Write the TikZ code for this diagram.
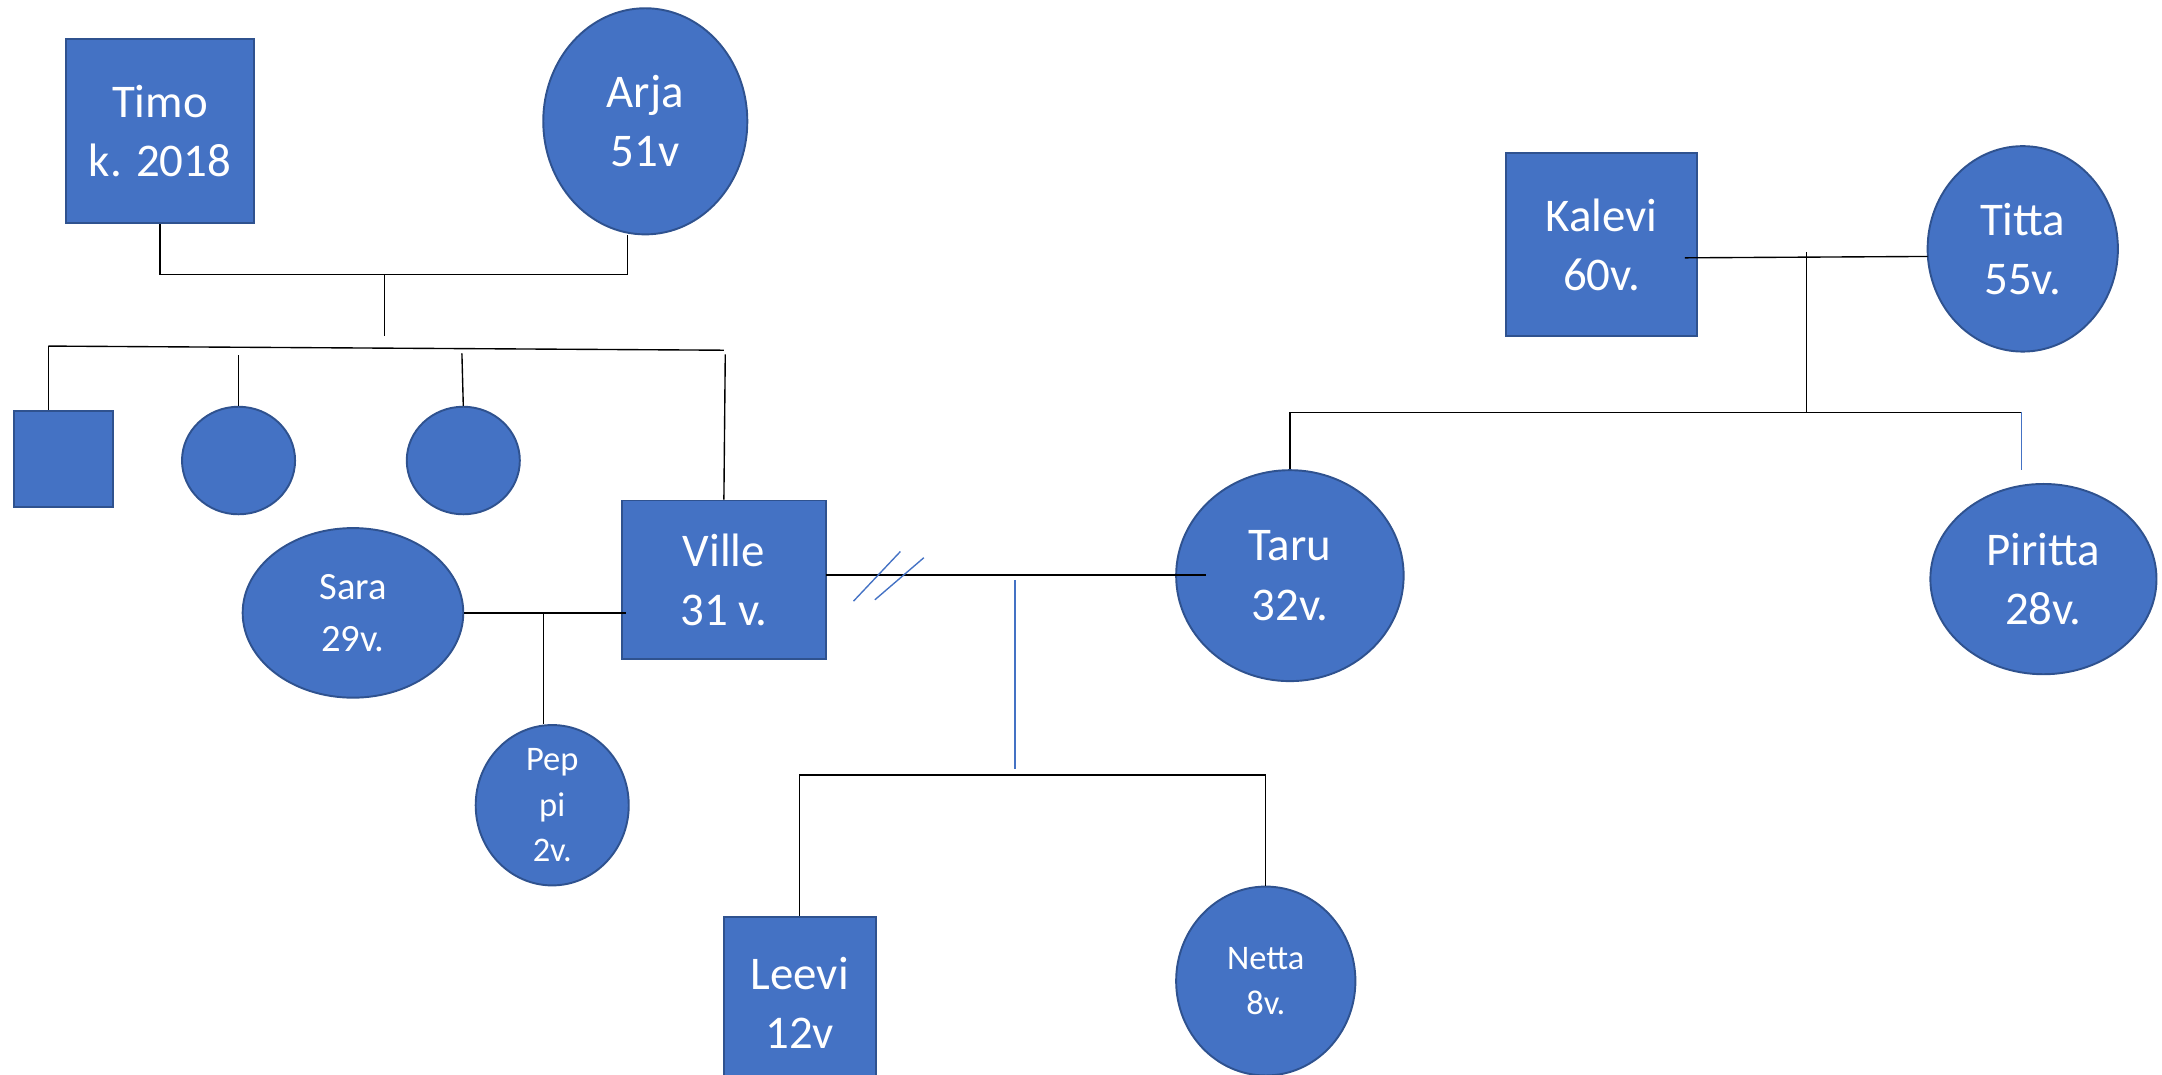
\documentclass[tikz,border=0pt]{standalone}
\usepackage{fontspec}
\setmainfont{Carlito}
\usetikzlibrary{shapes.geometric}
\definecolor{fillblue}{HTML}{4472C4}
\definecolor{edgeblue}{HTML}{2F528F}
\begin{document}
\begin{tikzpicture}[x=0.5pt,y=-0.5pt,
  person/.style={fill=fillblue,draw=edgeblue,line width=0.7pt,text=white,align=center,inner sep=0pt},
  male/.style={person,rectangle},
  female/.style={person,ellipse},
  big/.style={font=\fontsize{17}{21.5}\selectfont},
  mid/.style={font=\fontsize{14}{19}\selectfont},
  small/.style={font=\fontsize{12.5}{16.5}\selectfont},
  link/.style={draw=black,line width=0.5pt},
  bluelink/.style={draw=fillblue,line width=0.5pt}]
\useasboundingbox (0,0) rectangle (1568,779);
% persons
\node[male,big,minimum width=68pt,minimum height=67pt] (timo) at (116,95) {Timo\\k. 2018};
\node[female,big,minimum width=74pt,minimum height=82pt] (arja) at (468,88) {Arja\\51v};
\node[male,minimum width=36pt,minimum height=35pt] (sib1) at (46,333) {};
\node[female,minimum width=41pt,minimum height=39pt] (sib2) at (173,334) {};
\node[female,minimum width=41pt,minimum height=39pt] (sib3) at (336,334) {};
\node[male,big,minimum width=74pt,minimum height=57.5pt] (ville) at (525,420.5) {Ville\\31 v.};
\node[female,mid,minimum width=80pt,minimum height=61.5pt] (sara) at (256,444.5) {Sara\\29v.};
\node[female,small,minimum width=55.5pt,minimum height=52pt] (peppi) at (400.5,584) {Pep\\pi\\2v.};
\node[female,big,minimum width=82.5pt,minimum height=76.5pt] (taru) at (935.5,417.5) {Taru\\32v.};
\node[male,big,minimum width=55pt,minimum height=62.5pt] (leevi) at (580,727.5) {Leevi\\12v};
\node[female,small,minimum width=65pt,minimum height=68.5pt] (netta) at (918,711.5) {Netta\\8v.};
\node[male,big,minimum width=69.5pt,minimum height=66.5pt] (kalevi) at (1161.5,177.5) {Kalevi\\60v.};
\node[female,big,minimum width=69pt,minimum height=74.5pt] (titta) at (1467,180.5) {Titta\\55v.};
\node[female,big,minimum width=82pt,minimum height=69pt] (piritta) at (1482,420) {Piritta\\28v.};
% coordinates
\coordinate (ta1) at (455,199);
\coordinate (ta2) at (279,199);
\coordinate (sibTop) at (279,244);
\coordinate (s0) at (35,251);
\coordinate (s1) at (525,254);
\coordinate (sv) at (394,444);
\coordinate (vt0) at (599,417);
\coordinate (vt1) at (875,417);
\coordinate (c1) at (918,562);
\coordinate (k1) at (1222,187);
\coordinate (t1) at (1398,186);
\coordinate (kt) at (1310,183);
\coordinate (kt2) at (1310,299);
\coordinate (p1) at (1466,299);
\coordinate (p2) at (1466,341);
\coordinate (b0) at (736,421);
\coordinate (b1) at (736,558);
% connectors
\draw[link] (timo.south) |- (ta1) -- (ta1 |- arja.south);
\draw[link] (ta2) -- (sibTop);
\draw[link] (s0) -- (s1);
\draw[link] (s0) -- (s0 |- sib1.north);
\draw[link] (sib2.north) -- ++(0,-37);
\draw[link] (sib3.north) -- ++(-1,-38);
\draw[link] (ville.north) -- (526,257);
\draw[link] (sara.east) -- (ville.west |- sara.east) -- ++(4,0);
\draw[link] (sv) -- (sv |- peppi.north);
\draw[link] (vt0) -- (vt1);
\draw[bluelink] (619,436) -- (653,400);
\draw[bluelink] (634.5,435) -- (670,404.5);
\draw[bluelink] (b0) -- (b1);
\draw[link] (leevi.north) |- (c1) -- (netta.north);
\draw[link] (k1) -- (t1);
\draw[link] (kt) -- (kt2);
\draw[link] (taru.north) |- (p1);
\draw[bluelink] (p1) -- (p2);
\end{tikzpicture}
\end{document}
